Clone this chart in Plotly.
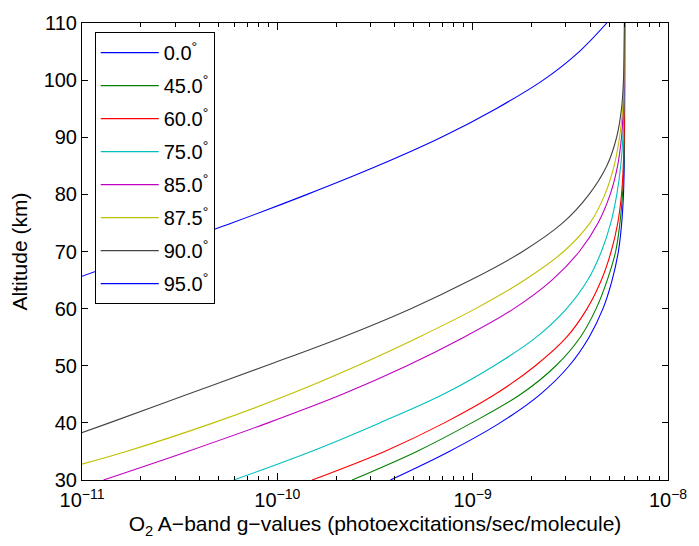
import numpy as np
import plotly.graph_objects as go

# Altitude grid (km)
altitude_km = [30, 35, 40, 45, 50, 55, 60, 65, 70, 75, 80, 85, 90, 95, 100, 105, 110]

# log10 of O2 A-band g-values (photoexcitations/sec/molecule)
log_g_sza_0 = [-9.421, -9.120, -8.860, -8.654, -8.506, -8.404, -8.333, -8.286, -8.254, -8.237,
               -8.228, -8.224, -8.2226, -8.2221, -8.2218, -8.2216, -8.2216]
log_g_sza_45 = [-9.617, -9.286, -9.005, -8.754, -8.574, -8.449, -8.368, -8.311, -8.268, -8.246,
                -8.233, -8.226, -8.2233, -8.2226, -8.2222, -8.2220, -8.2218]
log_g_sza_60 = [-9.822, -9.451, -9.145, -8.885, -8.679, -8.519, -8.414, -8.341, -8.291, -8.257,
                -8.238, -8.229, -8.2246, -8.2231, -8.2226, -8.2224, -8.2221]
log_g_sza_75 = [-10.223, -9.827, -9.476, -9.150, -8.890, -8.674, -8.519, -8.411, -8.341, -8.293,
                -8.262, -8.242, -8.231, -8.2256, -8.2233, -8.2226, -8.2223]
log_g_sza_85 = [-10.890, -10.459, -10.048, -9.667, -9.336, -9.045, -8.789, -8.594, -8.454, -8.358,
                -8.296, -8.258, -8.238, -8.229, -8.2246, -8.2231, -8.2226]
log_g_sza_87_5 = [-11.301, -10.774, -10.328, -9.937, -9.591, -9.276, -8.985, -8.734, -8.534, -8.399,
                  -8.323, -8.276, -8.248, -8.232, -8.226, -8.2238, -8.2228]
log_g_sza_90 = [-11.692, -11.271, -10.860, -10.459, -10.058, -9.667, -9.316, -9.010, -8.744, -8.539,
                -8.404, -8.313, -8.263, -8.238, -8.228, -8.2246, -8.2231]
log_g_sza_95 = [None, None, None, None, None, -11.897, -11.476, -11.055, -10.644, -10.233,
                -9.847, -9.486, -9.160, -8.880, -8.639, -8.454, -8.313]

sza_labels = ["0.0", "45.0", "60.0", "75.0", "85.0", "87.5", "90.0", "95.0"]
series = [log_g_sza_0, log_g_sza_45, log_g_sza_60, log_g_sza_75,
          log_g_sza_85, log_g_sza_87_5, log_g_sza_90, log_g_sza_95]
colors = ["#0000FF", "#008000", "#FF0000", "#00BFBF", "#BF00BF", "#BFBF00", "#444444", "#0000FF"]

x_tickvals = [1e-11, 1e-10, 1e-9, 1e-8]
x_ticktext = ["10<sup>−11</sup>", "10<sup>−10</sup>", "10<sup>−9</sup>", "10<sup>−8</sup>"]
minor_vals = [k * 10.0 ** e for e in (-11, -10, -9) for k in range(2, 10)]

FONT = "Liberation Sans, Arial, Helvetica, sans-serif"

fig = go.Figure()
for i, (lab, vals, col) in enumerate(zip(sza_labels, series, colors)):
    g = [None if v is None else float(np.power(10.0, v)) for v in vals]
    fig.add_trace(go.Scatter(
        x=g, y=altitude_km, mode="lines",
        line=dict(color=col, width=1.1, shape="spline", smoothing=1.0),
        name=f"{lab}<sup>°</sup>", legendgroup=f"g{i}",
        connectgaps=False,
    ))

fig.update_layout(
    width=699, height=546,
    margin=dict(l=82, r=18, t=20, b=66),
    paper_bgcolor="white", plot_bgcolor="white",
    font=dict(family=FONT, size=20, color="black"),
    showlegend=True,
    legend=dict(
        x=0.0217, y=0.98, xanchor="left", yanchor="top",
        bgcolor="white", bordercolor="black", borderwidth=1,
        font=dict(family=FONT, size=20, color="black"),
        tracegroupgap=4, itemwidth=58,
    ),
)

fig.update_xaxes(
    type="log", range=[-11, -8],
    tickmode="array", tickvals=x_tickvals, ticktext=x_ticktext,
    ticks="inside", ticklen=7, tickwidth=1, tickcolor="black",
    ticklabeloverflow="allow", ticklabelstandoff=2,
    minor=dict(ticks="inside", ticklen=4, tickwidth=1, tickcolor="black",
               tickmode="array", tickvals=minor_vals, showgrid=False),
    showline=True, linecolor="black", linewidth=1, mirror="allticks",
    showgrid=False, zeroline=False,
    tickfont=dict(family=FONT, size=20),
    title=dict(text="O<sub>2</sub> A−band g−values (photoexcitations/sec/molecule)",
               font=dict(family=FONT, size=21), standoff=6),
)
fig.update_yaxes(
    range=[30, 110], tickmode="linear", tick0=30, dtick=10,
    ticks="inside", ticklen=6, tickwidth=1, tickcolor="black",
    showline=True, linecolor="black", linewidth=1, mirror="allticks",
    showgrid=False, zeroline=False,
    tickfont=dict(family=FONT, size=20),
    title=dict(text="Altitude (km)", font=dict(family=FONT, size=21), standoff=10),
)

fig.write_html("out.html")
